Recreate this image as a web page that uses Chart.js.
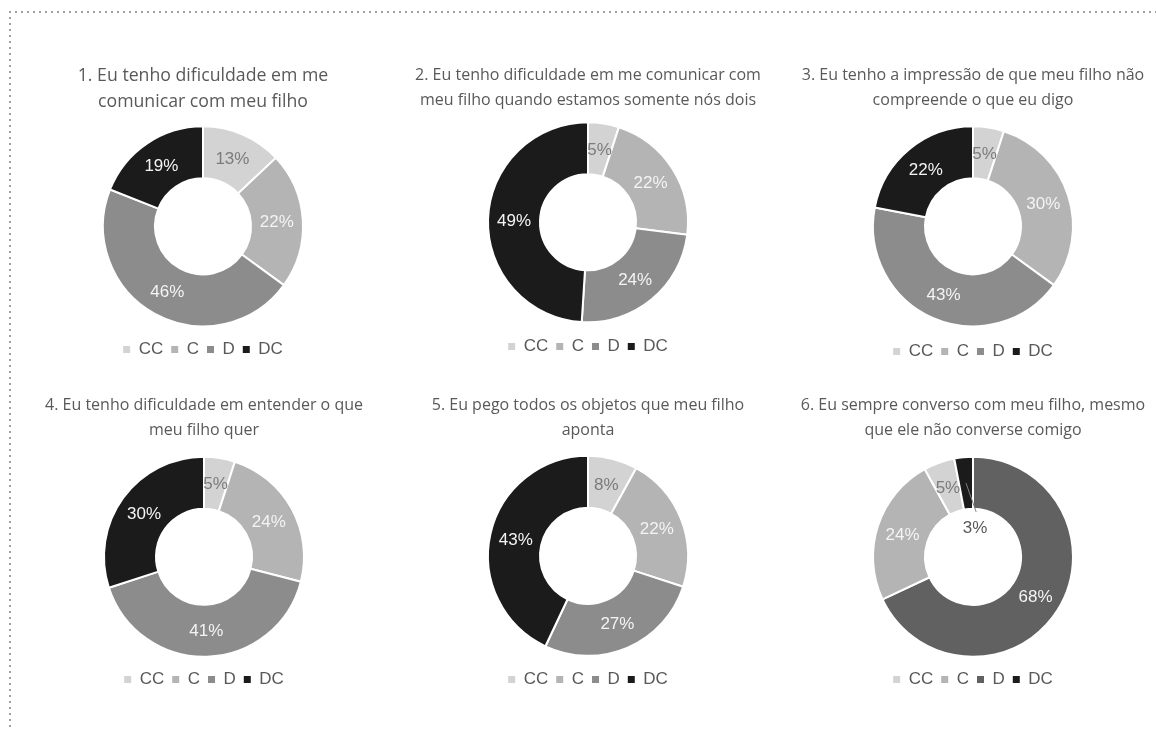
<!DOCTYPE html>
<html><head><meta charset="utf-8">
<script src="https://cdn.jsdelivr.net/npm/chart.js@4.4.1/dist/chart.umd.min.js"></script>
<style>
html,body{margin:0;padding:0;background:#fff;overflow:hidden;width:1156px;height:729px;position:relative}
.ftop{position:absolute;left:9px;top:11px;width:1147px;height:2px;background-image:linear-gradient(to right,#a0a0a0 0,#a0a0a0 1.6px,transparent 1.6px);background-size:6px 2px;background-repeat:repeat-x}
.fleft{position:absolute;left:9px;top:11px;width:2px;height:718px;background-image:linear-gradient(to bottom,#a0a0a0 0,#a0a0a0 1.6px,transparent 1.6px);background-size:2px 6px;background-repeat:repeat-y}
canvas{position:absolute}
</style></head>
<body>
<div class="ftop"></div><div class="fleft"></div>
<canvas id="c1"></canvas><canvas id="c2"></canvas><canvas id="c3"></canvas>
<canvas id="c4"></canvas><canvas id="c5"></canvas><canvas id="c6"></canvas>
<script>
// ---- data ----
const categories = ['CC','C','D','DC'];
const q1 = [13,22,46,19];
const q2 = [5,22,24,49];
const q3 = [5,30,43,22];
const q4 = [5,24,41,30];
const q5 = [8,22,27,43];
const q6 = [5,24,68,3];
const titles = [
  ['1. Eu tenho dificuldade em me','comunicar com meu filho'],
  ['2. Eu tenho dificuldade em me comunicar com','meu filho quando estamos somente nós dois'],
  ['3. Eu tenho a impressão de que meu filho não','compreende o que eu digo'],
  ['4. Eu tenho dificuldade em entender o que','meu filho quer'],
  ['5. Eu pego todos os objetos que meu filho','aponta'],
  ['6. Eu sempre converso com meu filho, mesmo','que ele não converse comigo']
];
const seriesList = [q1,q2,q3,q4,q5,q6];
// drawing order (clockwise from top) as indices into categories
const drawOrders = [[0,1,2,3],[0,1,2,3],[0,1,2,3],[0,1,2,3],[0,1,2,3],[2,1,0,3]];

// ---- styles ----
const baseColors = {CC:'#d3d3d3', C:'#b4b4b4', D:'#8c8c8c', DC:'#1b1b1b'};
const colorSets = [baseColors, baseColors, baseColors, baseColors, baseColors,
  {CC:'#d3d3d3', C:'#b4b4b4', D:'#616161', DC:'#1b1b1b'}];
const labelColors = {CC:'#7b7b7b', C:'#f4f4f4', D:'#f4f4f4', DC:'#f4f4f4'};
const layouts = [
  {left:3,   top:50,  height:318, padB:4.6, tSize:17.7, tLH:1.47},
  {left:388, top:50,  height:315, padB:2,   tSize:16, tLH:1.55},
  {left:773, top:50,  height:320, padB:5,   tSize:16, tLH:1.55},
  {left:4,   top:380, height:318, padB:8,   tSize:16, tLH:1.55},
  {left:388, top:380, height:318, padB:6,   tSize:16, tLH:1.55},
  {left:773, top:380, height:318, padB:8,   tSize:16, tLH:1.55}
];
const outsideLabels = [{},{},{},{},{}, {DC:{radius:30, angleShift:0.165, lineGap:15, color:'#595959', lineColor:'#7f7f7f'}}];

const sliceLabels = {
  id:'sliceLabels',
  afterDatasetsDraw(chart, args, opts){
    const ctx = chart.ctx;
    const meta = chart.getDatasetMeta(0);
    const ds = chart.data.datasets[0];
    ctx.save();
    ctx.font = '17px "Liberation Sans", Arial, sans-serif';
    ctx.textAlign = 'center';
    ctx.textBaseline = 'middle';
    meta.data.forEach((arc,i)=>{
      const p = arc.getProps(['x','y','startAngle','endAngle','innerRadius','outerRadius'], true);
      const mid = (p.startAngle + p.endAngle)/2;
      const cat = chart.data.labels[i];
      const rMid = (p.innerRadius + p.outerRadius)/2;
      const ov = (opts.outside || {})[cat];
      let lx, ly;
      if (ov) {
        const a = mid + ov.angleShift;
        lx = p.x + ov.radius*Math.cos(a);
        ly = p.y + ov.radius*Math.sin(a);
        ctx.strokeStyle = ov.lineColor; ctx.lineWidth = 1;
        ctx.beginPath();
        ctx.moveTo(p.x + rMid*Math.cos(mid), p.y + rMid*Math.sin(mid));
        ctx.lineTo(p.x + (ov.radius+ov.lineGap)*Math.cos(a), p.y + (ov.radius+ov.lineGap)*Math.sin(a));
        ctx.stroke();
        ctx.fillStyle = ov.color;
      } else {
        lx = p.x + rMid*Math.cos(mid);
        ly = p.y + rMid*Math.sin(mid);
        ctx.fillStyle = labelColors[cat];
      }
      ctx.fillText(ds.data[i] + '%', lx, ly + 1);
    });
    ctx.restore();
  }
};

seriesList.forEach((vals, k)=>{
  const L = layouts[k];
  const cv = document.getElementById('c'+(k+1));
  cv.width = 400; cv.height = L.height;
  cv.style.left = L.left + 'px'; cv.style.top = L.top + 'px';
  const order = drawOrders[k];
  const labels = order.map(i=>categories[i]);
  const data = order.map(i=>vals[i]);
  const colors = labels.map(c=>colorSets[k][c]);
  new Chart(cv, {
    type:'doughnut',
    data:{labels, datasets:[{data, backgroundColor:colors, borderColor:'#ffffff', borderWidth:2}]},
    plugins:[sliceLabels],
    options:{
      responsive:false, animation:false, events:[],
      cutout:'48%', radius:100,
      layout:{padding:0},
      plugins:{
        tooltip:{enabled:false},
        title:{display:true, text:titles[k], color:'#595959',
          font:{family:'"Open Sans", "Noto Sans", sans-serif', size:L.tSize, weight:'normal', lineHeight:L.tLH},
          padding:{top:13, bottom:L.padB}},
        legend:{position:'bottom',
          labels:{color:'#595959', boxWidth:7, boxHeight:7, padding:8,
            font:{family:'"Liberation Sans", Arial, sans-serif', size:17},
            generateLabels:(chart)=>Chart.overrides.doughnut.plugins.legend.labels.generateLabels(chart).map(it=>Object.assign(it,{lineWidth:0})),
            sort:(a,b)=>categories.indexOf(a.text)-categories.indexOf(b.text)}},
        sliceLabels:{outside:outsideLabels[k]}
      }
    }
  });
});
</script>
</body></html>
